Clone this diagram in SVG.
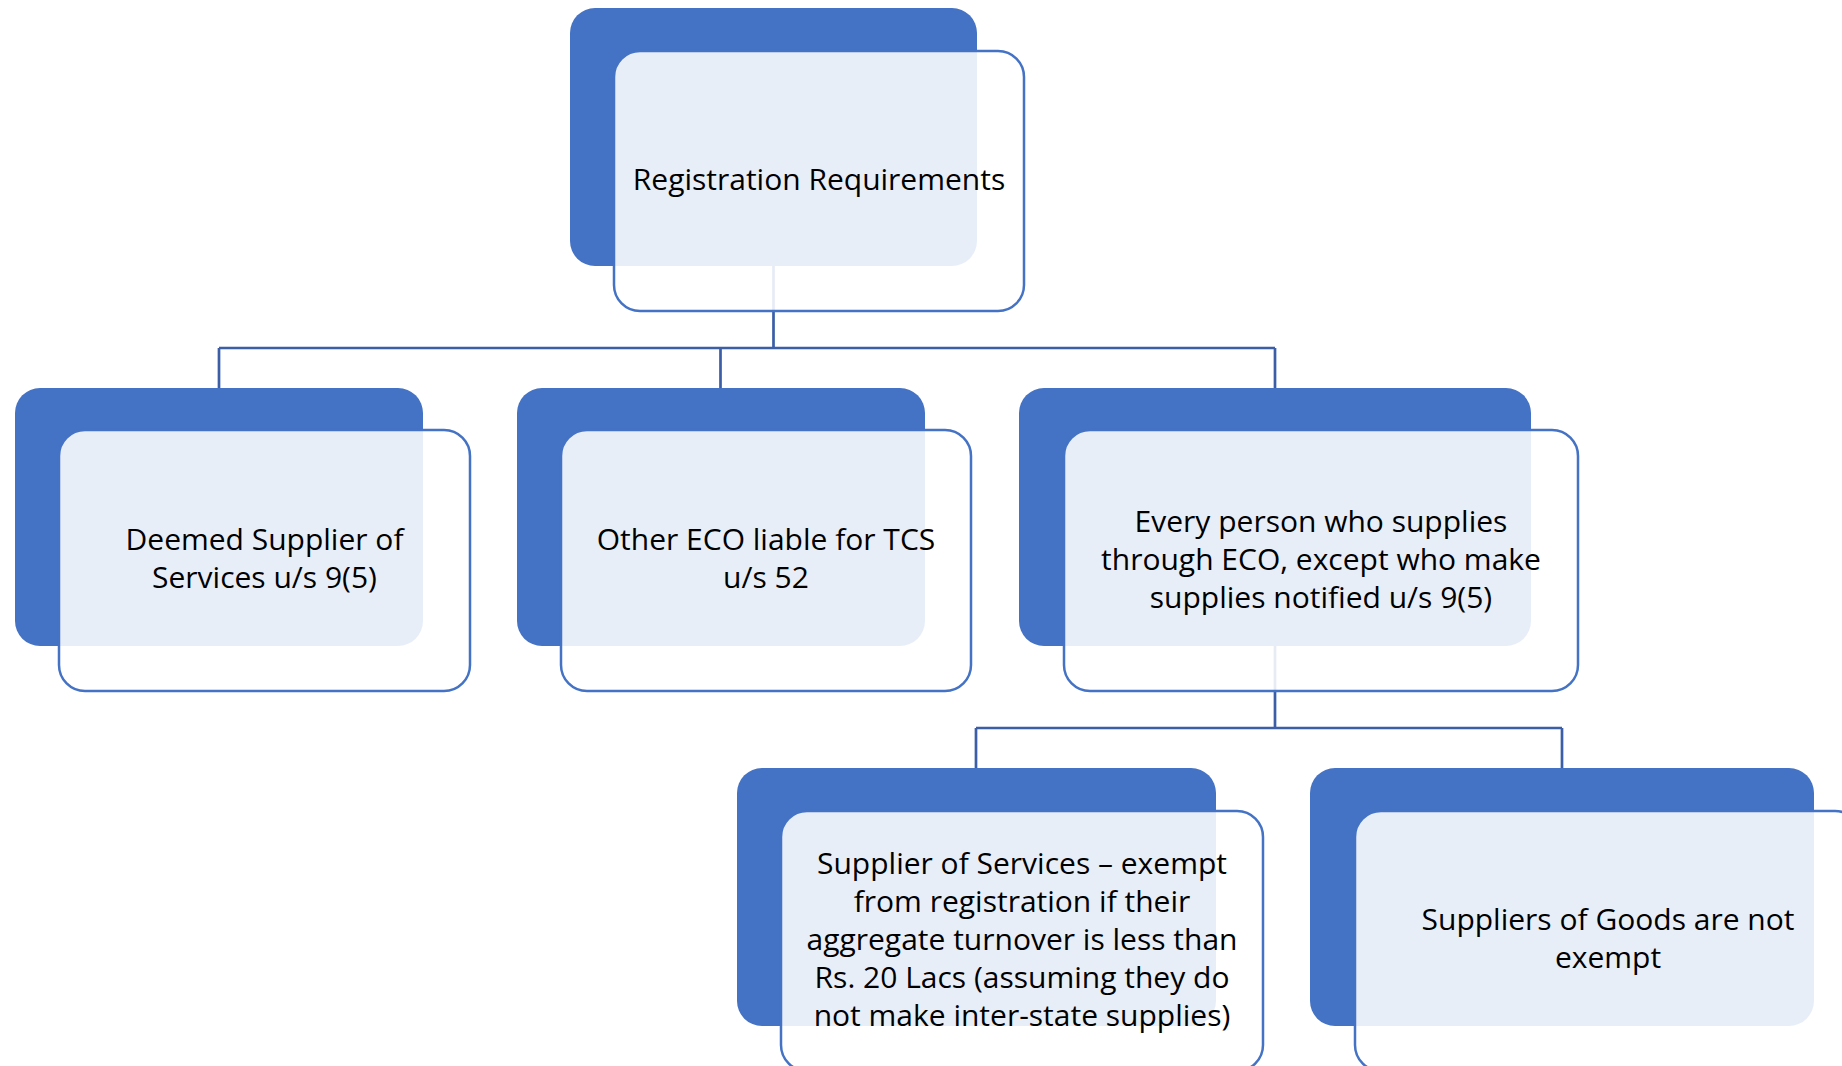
<svg xmlns="http://www.w3.org/2000/svg" width="1842" height="1066" viewBox="0 0 1842 1066">
<style>
.back{fill:#4472C4;}
.front{fill:#ffffff;fill-opacity:0.88;stroke:#4472C4;stroke-width:2.5;}
.conn{fill:none;stroke:#3B5EA6;stroke-width:2.7;}
.lbl{font-family:"Open Sans","Liberation Sans",sans-serif;font-size:30px;fill:#000;text-anchor:middle;}
</style>
<rect width="1842" height="1066" fill="#ffffff"/>
<g id="connectors">
<path class="conn" d="M773.5 266 V348 M219 348 H1275 M219 348 V388 M720.5 348 V388 M1275 348 V388"/>
<path class="conn" d="M1275 646 V728 M976 728 H1562 M976 728 V768 M1562 728 V768"/>
</g>
<g id="node-registration">
<rect class="back" x="570" y="8" width="407" height="258" rx="25"/>
<rect class="front" x="614" y="51" width="410" height="260" rx="26"/>
<text class="lbl" x="819" y="190">Registration Requirements</text>
</g>
<g id="node-deemed">
<rect class="back" x="15" y="388" width="408" height="258" rx="25"/>
<rect class="front" x="59" y="430" width="411" height="261" rx="26"/>
<text class="lbl" x="264.5" y="550">Deemed Supplier of</text>
<text class="lbl" x="264.5" y="588">Services u/s 9(5)</text>
</g>
<g id="node-other-eco">
<rect class="back" x="517" y="388" width="408" height="258" rx="25"/>
<rect class="front" x="561" y="430" width="410" height="261" rx="26"/>
<text class="lbl" x="766" y="550">Other ECO liable for TCS</text>
<text class="lbl" x="766" y="588">u/s 52</text>
</g>
<g id="node-every-person">
<rect class="back" x="1019" y="388" width="512" height="258" rx="25"/>
<rect class="front" x="1064" y="430" width="514" height="261" rx="26"/>
<text class="lbl" x="1321" y="532">Every person who supplies</text>
<text class="lbl" x="1321" y="570">through ECO, except who make</text>
<text class="lbl" x="1321" y="608">supplies notified u/s 9(5)</text>
</g>
<g id="node-services">
<rect class="back" x="737" y="768" width="479" height="258" rx="25"/>
<rect class="front" x="781" y="811" width="482" height="260" rx="26"/>
<text class="lbl" x="1022" y="874">Supplier of Services – exempt</text>
<text class="lbl" x="1022" y="912">from registration if their</text>
<text class="lbl" x="1022" y="950">aggregate turnover is less than</text>
<text class="lbl" x="1022" y="988">Rs. 20 Lacs (assuming they do</text>
<text class="lbl" x="1022" y="1026">not make inter-state supplies)</text>
</g>
<g id="node-goods">
<rect class="back" x="1310" y="768" width="504" height="258" rx="25"/>
<rect class="front" x="1355" y="811" width="506" height="260" rx="26"/>
<text class="lbl" x="1608" y="930">Suppliers of Goods are not</text>
<text class="lbl" x="1608" y="968">exempt</text>
</g>
</svg>
